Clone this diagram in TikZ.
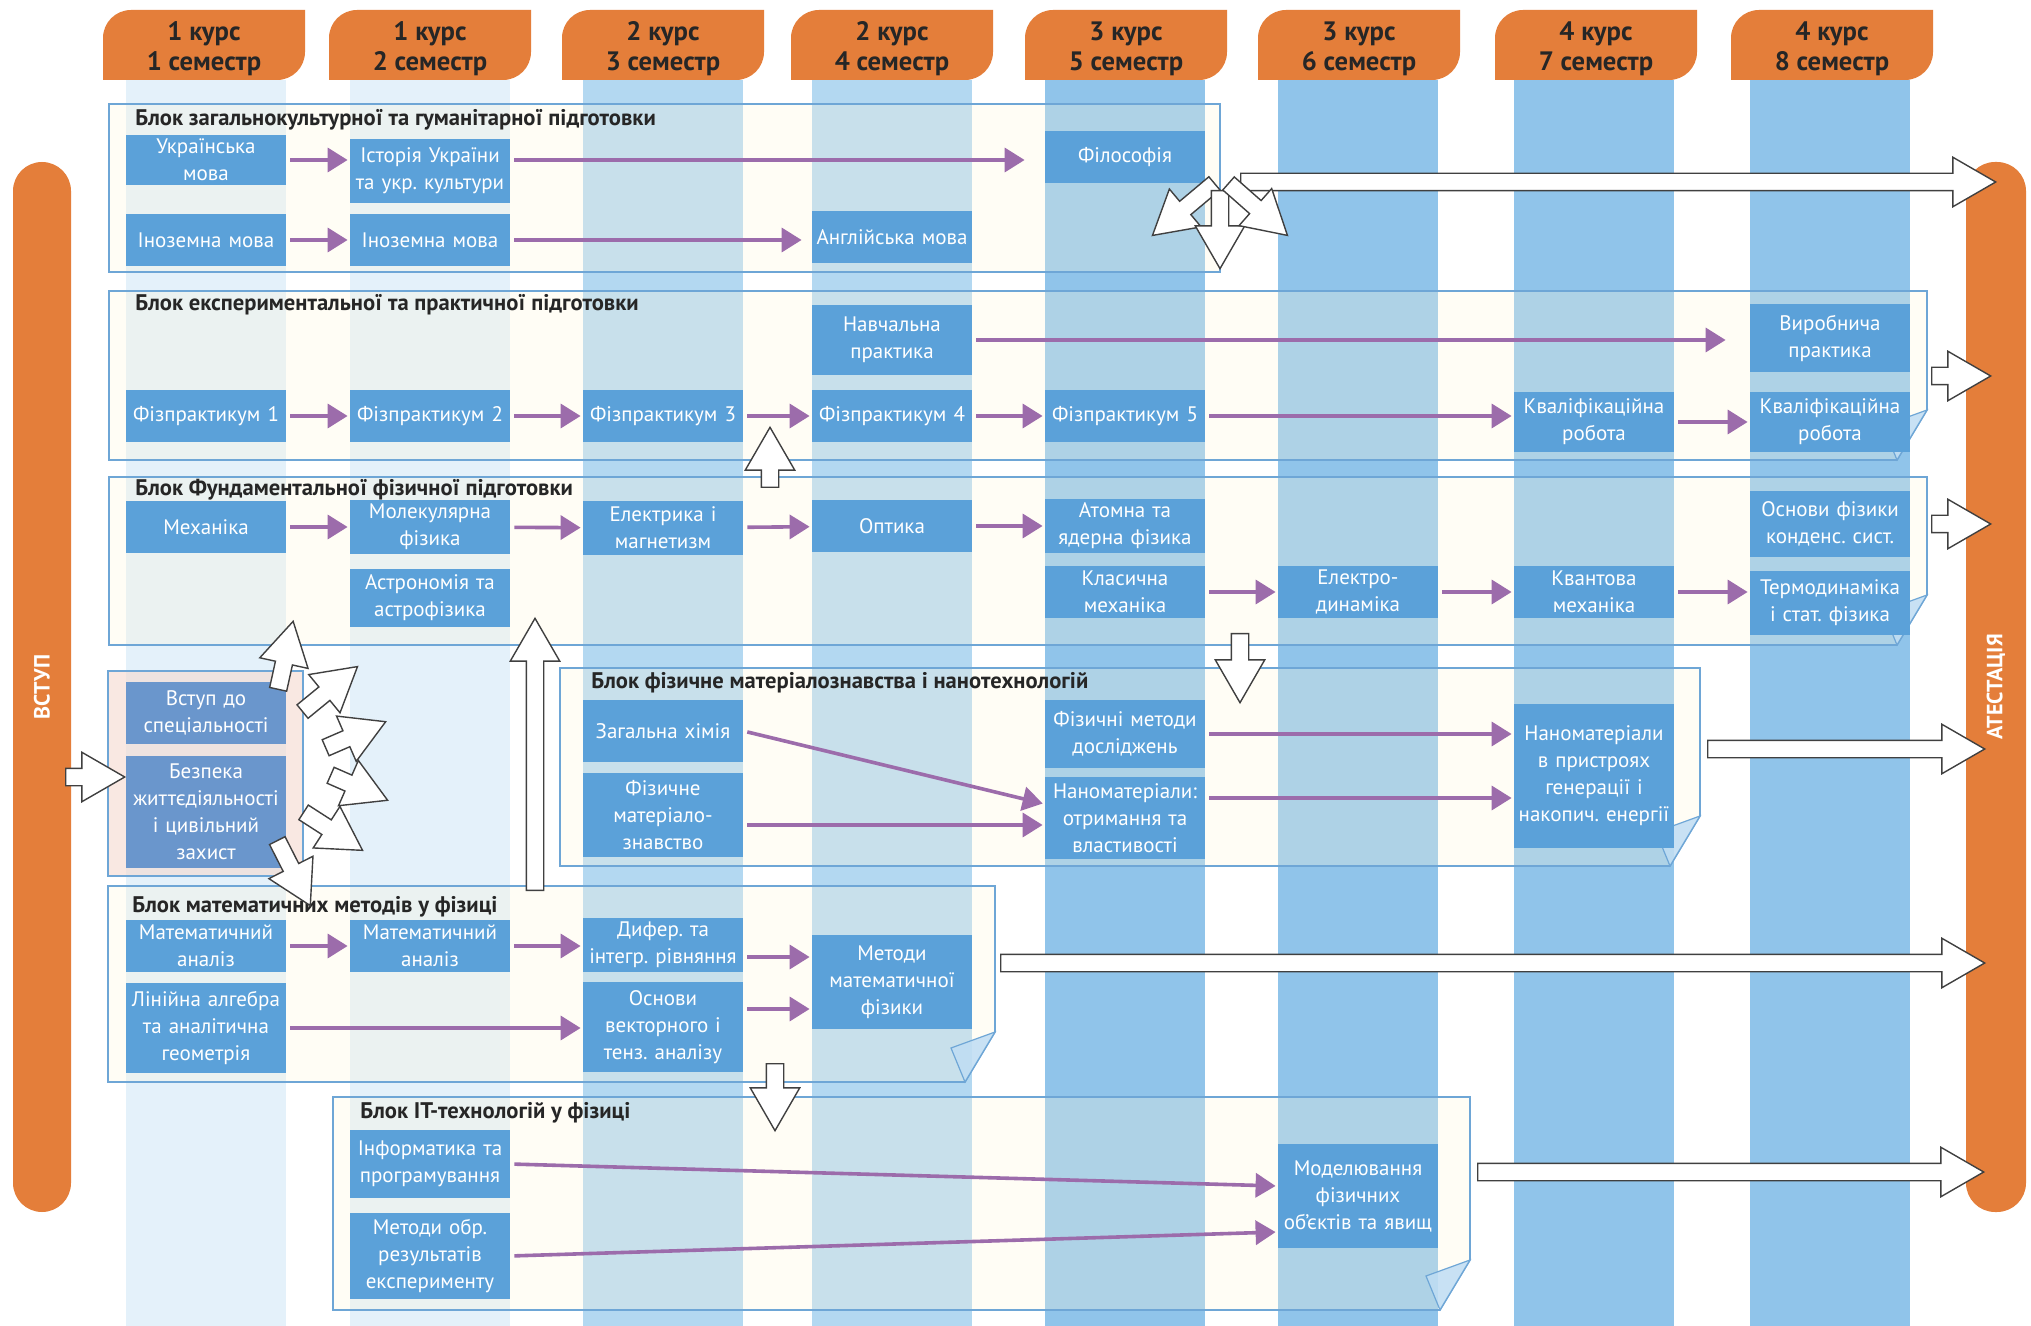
\documentclass[tikz,border=0pt]{standalone}
\usepackage{fontspec}
\setsansfont{PT Sans}
\usetikzlibrary{arrows.meta,calc,shapes.arrows}
\definecolor{tabfill}{HTML}{E47E3A}
\definecolor{pale}{HTML}{E4F1FA}
\definecolor{mid}{HTML}{B3D8F1}
\definecolor{deep}{HTML}{90C4EA}
\definecolor{frame}{HTML}{6EA6D6}
\definecolor{cream}{HTML}{FFF8DC}
\definecolor{coursebox}{HTML}{5BA1D9}
\definecolor{introbox}{HTML}{6A96CC}
\definecolor{blush}{HTML}{F6DAD0}
\definecolor{plum}{HTML}{9C6CAB}
\definecolor{ink}{HTML}{262626}
\definecolor{foldblue}{HTML}{BFDDF4}
\tikzset{
  font=\sffamily,
  course/.style={fill=coursebox, text=white, minimum width=80pt, text width=78pt,
    inner xsep=1pt, inner ysep=2pt, align=center,
    font=\sffamily\frenchspacing\fontsize{10.5pt}{13.5pt}\selectfont},
  intro/.style={course, fill=introbox},
  blk/.style={draw=frame, line width=0.8pt, fill=cream, fill opacity=0.28},
  introblk/.style={blk, fill=blush, fill opacity=0.6},
  fold/.style={draw=frame, line width=0.6pt, fill=foldblue, fill opacity=0.85},
  blocktitle/.style={anchor=west, text=ink, inner sep=0pt,
    font=\sffamily\bfseries\fontsize{11.3pt}{13pt}\selectfont},
  tab/.style={text=ink, align=center, font=\sffamily\bfseries\fontsize{13.3pt}{15pt}\selectfont},
  sidebar/.style={fill=tabfill, rounded corners=14.5pt, minimum height=29pt, text=white,
    font=\sffamily\bfseries\fontsize{11pt}{13pt}\selectfont},
  flow/.style={-{Triangle[length=10pt,width=12pt]}, draw=plum, line width=1.8pt,
    shorten <=2pt, shorten >=1pt},
  hollow/.style={single arrow, draw=black!75, fill=white, line width=0.7pt, inner sep=4pt,
    single arrow head extend=8pt, single arrow tip angle=60, anchor=tail}
}
% block frames: name, north west, south east
\newcommand\plainblock[4][blk]{%
  \coordinate (#2-nw) at (#3); \coordinate (#2-se) at (#4);
  \draw[#1] (#2-nw) rectangle (#2-se);}
\newcommand\foldblock[3]{%
  \coordinate (#1-nw) at (#2); \coordinate (#1-se) at (#3);
  \draw[blk] (#1-nw) -- (#1-nw -| #1-se) -- ([yshift=25pt]#1-se) -- ([xshift=-15pt]#1-se)
    -- (#1-nw |- #1-se) -- cycle;
  \filldraw[fold] ([yshift=25pt]#1-se) -- ([xshift=-15pt]#1-se) -- ([xshift=-22pt,yshift=17pt]#1-se) -- cycle;}
% white block arrow: name, tail, tip
\newcommand\bigarrow[3]{%
  \coordinate (#1-s) at (#2); \coordinate (#1-e) at (#3);
  \path let \p1=($(#1-e)-(#1-s)$), \n1={veclen(\x1,\y1)}, \n2={atan2(\y1,\x1)} in
    node[hollow, minimum height=\n1, rotate=\n2] (#1) at (#1-s) {};}

\begin{document}
\begin{tikzpicture}[x=0.5pt, y=-0.5pt]
  \useasboundingbox (0,0) rectangle (2031,1326);
  \fill[white] (0,0) rectangle (2031,1326);

  % Semester stripes
  \foreach \cx/\tone in {206/pale, 430/pale, 663/mid, 892/mid, 1125/deep, 1358/deep, 1594/deep, 1830/deep}
    \fill[\tone] (\cx-80,80) rectangle (\cx+80,1326);

  % Header tabs
  \foreach \cx/\yr/\sem [count=\i] in {204/1/1, 430/1/2, 663/2/3, 892/2/4, 1126/3/5, 1359/3/6, 1596/4/7, 1832/4/8} {
    \fill[tabfill] (\cx-101,80) -- (\cx-101,38) arc[start angle=180, end angle=90, radius=14pt]
      -- (\cx+101,10) -- (\cx+101,52) arc[start angle=0, end angle=-90, radius=14pt] -- cycle;
    \node[tab] (sem\i) at (\cx,49) {\yr\ курс\\\sem\ семестр};
  }

  % Entry and attestation bars
  \node[sidebar, rotate=90, minimum width=525pt] (vstup) at (42,687) {ВСТУП};
  \node[sidebar, rotate=90, minimum width=525pt, minimum height=30pt] (atest) at (1996,687) {АТЕСТАЦІЯ};

  % Block frames
  \plainblock{bk1}{109,104}{1220,272}
  \foldblock{bk2}{109,291}{1927,460}
  \foldblock{bk3}{109,477}{1927,645}
  \foldblock{bk4}{560,668}{1700,866}
  \plainblock[introblk]{bk5}{108,671}{303,876}
  \foldblock{bk6}{108,886}{995,1082}
  \foldblock{bk7}{333,1097}{1470,1310}

  \node[blocktitle] (gen) at ([xshift=13pt,yshift=-8pt]bk1-nw) {Блок загальнокультурної та гуманітарної підготовки};
  \node[blocktitle] (exp) at ([xshift=13pt,yshift=-7pt]bk2-nw) {Блок експериментальної та практичної підготовки};
  \node[blocktitle] (fund) at ([xshift=13pt,yshift=-6.5pt]bk3-nw) {Блок Фундаментальної фізичної підготовки};
  \node[blocktitle] (matsci) at ([xshift=15.5pt,yshift=-7.5pt]bk4-nw) {Блок фізичне матеріалознавства і нанотехнологій};
  \node[blocktitle] (maths) at ([xshift=12pt,yshift=-10.5pt]bk6-nw) {Блок математичних методів у фізиці};
  \node[blocktitle] (itb) at ([xshift=13.5pt,yshift=-8pt]bk7-nw) {Блок ІТ-технологій у фізиці};

  % Humanities
  \node[course, minimum height=25pt] (ukr) at (206,160) {Українська\\мова};
  \node[course, minimum height=32pt] (hist) at (430,171) {Історія України\\та укр. культури};
  \node[course, minimum height=26pt] (lang1) at (206,240) {Іноземна мова};
  \node[course, minimum height=26pt] (lang2) at (430,240) {Іноземна мова};
  \node[course, minimum height=26pt] (engl) at (892,237) {Англійська мова};
  \node[course, minimum height=26pt] (philo) at (1125,157) {Філософія};

  % Laboratory and practice
  \node[course, minimum height=35pt] (edpr) at (892,340) {Навчальна\\практика};
  \foreach \cx [count=\i] in {206,430,663,892,1125}
    \node[course, minimum height=26pt] (lab\i) at (\cx,416) {Фізпрактикум \i};
  \node[course, minimum height=30pt] (thes7) at (1594,422) {Кваліфікаційна\\робота};
  \node[course, minimum height=30pt] (thes8) at (1830,422) {Кваліфікаційна\\робота};
  \node[course, minimum height=34pt] (indpr) at (1830,338) {Виробнича\\практика};

  % Fundamental physics
  \node[course, minimum height=26pt] (mech) at (206,527) {Механіка};
  \node[course, minimum height=27pt] (molec) at (430,527) {Молекулярна\\фізика};
  \node[course, minimum height=29pt] (astro) at (430,598) {Астрономія та\\астрофізика};
  \node[course, minimum height=27pt] (elmag) at (663,528) {Електрика і\\магнетизм};
  \node[course, minimum height=26pt] (optic) at (892,526) {Оптика};
  \node[course, minimum height=26pt] (atom) at (1125,526) {Атомна та\\ядерна фізика};
  \node[course, minimum height=33pt] (cond) at (1830,524) {Основи фізики\\конденс. сист.};
  \node[course, minimum height=26pt] (clas) at (1125,592) {Класична\\механіка};
  \node[course, minimum height=26pt] (edyn) at (1358,592) {Електро-\\динаміка};
  \node[course, minimum height=26pt] (quant) at (1594,592) {Квантова\\механіка};
  \node[course, minimum height=32pt] (thermo) at (1830,603) {Термодинаміка\\і стат. фізика};

  % Materials science
  \node[course, minimum height=31pt] (chem) at (663,731) {Загальна хімія};
  \node[course, minimum height=42pt] (fmat) at (663,815) {Фізичне\\матеріало-\\знавство};
  \node[course, minimum height=34pt] (fmeth) at (1125,734) {Фізичні методи\\досліджень};
  \node[course, minimum height=41pt] (nano) at (1125,818) {Наноматеріали:\\отримання та\\властивості};
  \node[course, minimum height=72pt] (nanodev) at (1594,776) {Наноматеріали\\в пристроях\\генерації і\\накопич. енергії};

  % Introduction
  \node[intro, minimum height=31pt] (spec) at (206,713) {Вступ до\\спеціальності};
  \node[intro, minimum height=56pt] (safety) at (206,812) {Безпека\\життєдіяльності\\і цивільний\\захист};

  % Mathematical methods
  \node[course, minimum height=26pt] (calc1) at (206,946) {Математичний\\аналіз};
  \node[course, minimum height=26pt] (calc2) at (430,946) {Математичний\\аналіз};
  \node[course, minimum height=45pt] (linalg) at (206,1028) {Лінійна алгебра\\та аналітична\\геометрія};
  \node[course, minimum height=27pt] (diffeq) at (663,945) {Дифер. та\\інтегр. рівняння};
  \node[course, minimum height=45pt] (vect) at (663,1027) {Основи\\векторного і\\тенз. аналізу};
  \node[course, minimum height=47pt] (mmph) at (892,982) {Методи\\математичної\\фізики};

  % IT
  \node[course, minimum height=34pt] (inf) at (430,1164) {Інформатика та\\програмування};
  \node[course, minimum height=43pt] (proc) at (430,1256) {Методи обр.\\результатів\\експерименту};
  \node[course, minimum height=52pt] (model) at (1358,1196) {Моделювання\\фізичних\\об'єктів та явищ};

  % Course sequence
  \draw[flow] (ukr.east) -- (ukr.east -| hist.west);
  \draw[flow, shorten >=10pt] (hist.east |- ukr.east) -- (ukr.east -| philo.west);
  \draw[flow] (lang1) -- (lang2);
  \draw[flow, shorten >=5pt] (lang2.east) -- (lang2.east -| engl.west);
  \draw[flow, shorten >=12pt] (edpr.east) -- (edpr.east -| indpr.west);
  \foreach \i [evaluate=\i as \j using int(\i+1)] in {1,...,4}
    \draw[flow] (lab\i) -- (lab\j);
  \draw[flow] (lab5) -- (lab5 -| thes7.west);
  \draw[flow] (thes7) -- (thes8);
  \draw[flow] (mech) -- (molec);
  \draw[flow] (molec) -- (elmag);
  \draw[flow] (elmag) -- (optic);
  \draw[flow] (optic) -- (atom);
  \draw[flow] (clas) -- (edyn);
  \draw[flow] (edyn) -- (quant);
  \draw[flow] (quant) -- (quant -| thermo.west);
  \draw[flow] (chem.east) -- ([yshift=7pt]nano.west);
  \draw[flow] ([yshift=-5pt]fmat.east) -- ([yshift=-5pt]fmat.east -| nano.west);
  \draw[flow] (fmeth.east) -- (fmeth.east -| nanodev.west);
  \draw[flow] ([yshift=10pt]nano.east) -- ([yshift=10pt]nano.east -| nanodev.west);
  \draw[flow] (calc1) -- (calc2);
  \draw[flow] (calc2) -- (calc2 -| diffeq.west);
  \draw[flow] (linalg.east) -- (linalg.east -| vect.west);
  \draw[flow] ([yshift=-6pt]diffeq.east) -- ([yshift=-6pt]diffeq.east -| mmph.west);
  \draw[flow] ([yshift=9pt]vect.east) -- ([yshift=9pt]vect.east -| mmph.west);
  \draw[flow] (inf.east) -- ([yshift=5pt]model.west);
  \draw[flow] (proc.east) -- ([yshift=-18pt]model.west);

  % Block-to-block arrows
  \bigarrow{enter}{65,777}{124,777}
  \bigarrow{toatt1}{1240,182}{1995,182}
  \bigarrow{down1}{1215,183}{1153,235}
  \bigarrow{down2}{1220,190}{1220,268}
  \bigarrow{down3}{1228,183}{1287,235}
  \bigarrow{toatt2}{1931,376}{1990,376}
  \bigarrow{toatt3}{1931,524}{1990,524}
  \bigarrow{toatt4}{1707,749}{1984,749}
  \bigarrow{toatt6}{1000,963}{1984,963}
  \bigarrow{toatt7}{1477,1172}{1983,1172}
  \bigarrow{up23}{770,488}{770,428}
  \bigarrow{down34}{1240,633}{1240,702}
  \bigarrow{up63}{535,891}{535,619}
  \bigarrow{down67}{775,1063}{775,1130}
  \bigarrow{fan1}{278,690}{293,622}
  \bigarrow{fan2}{302,712}{357,667}
  \bigarrow{fan3}{325,748}{385,722}
  \bigarrow{fan4}{330,775}{387,800}
  \bigarrow{fan5}{303,812}{362,850}
  \bigarrow{fan6}{277,840}{310,905}
\end{tikzpicture}
\end{document}
